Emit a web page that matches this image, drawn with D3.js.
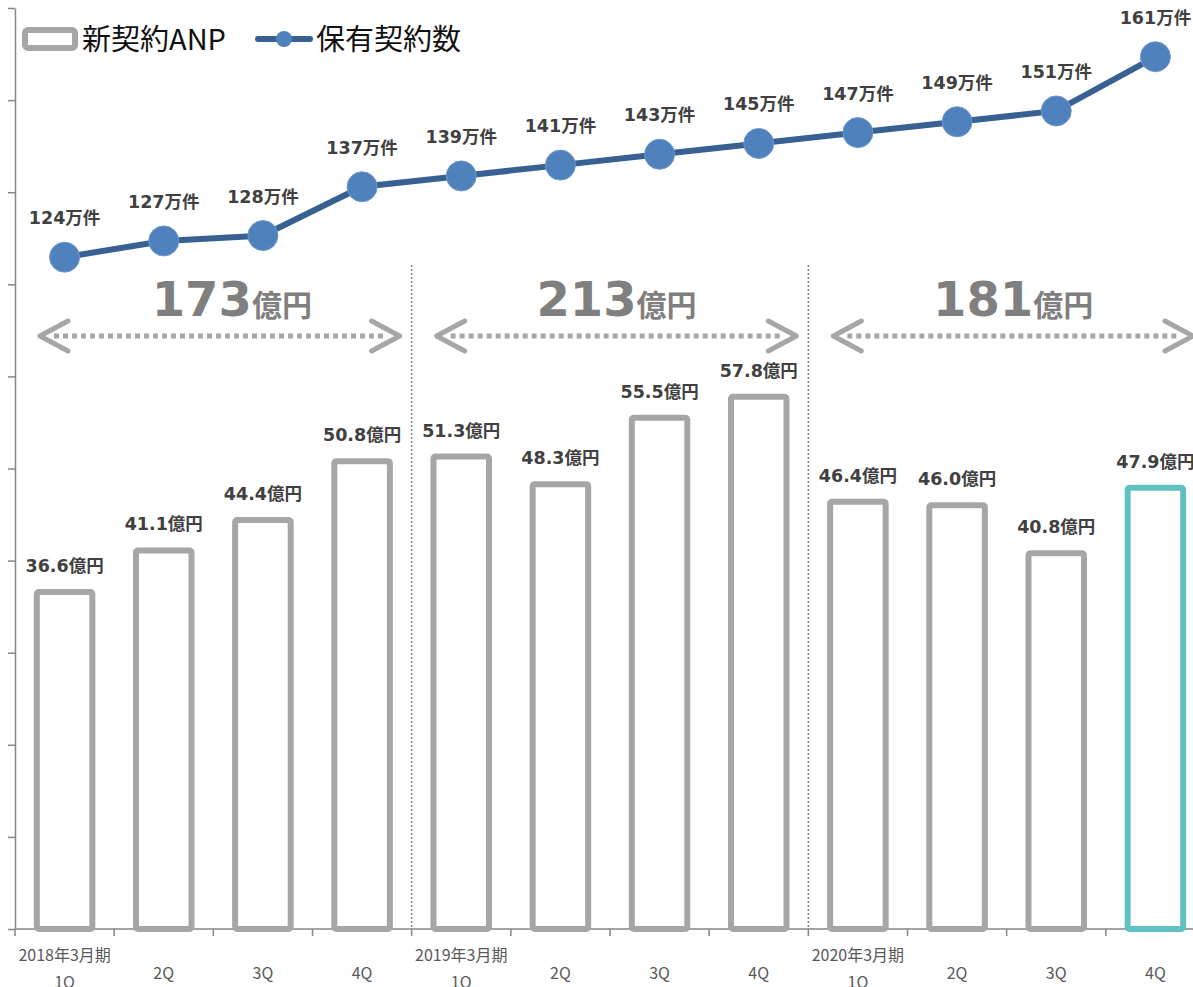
<!DOCTYPE html>
<html>
<head>
<meta charset="utf-8">
<script src="https://cdn.jsdelivr.net/npm/d3@7"></script>
<style>
  html, body { margin: 0; padding: 0; background: #fff; overflow: hidden; }
  svg { display: block; }
</style>
</head>
<body>
<svg id="chart"></svg>
<script>
// data
const periods = ['2018年3月期', '2019年3月期', '2020年3月期'];
const quarters = ['1Q', '2Q', '3Q', '4Q'];
const periodTotals = [173, 213, 181];
const anp = [36.6, 41.1, 44.4, 50.8, 51.3, 48.3, 55.5, 57.8, 46.4, 46.0, 40.8, 47.9];
const policies = [124, 127, 128, 137, 139, 141, 143, 145, 147, 149, 151, 161];

const width = 1193;
const height = 987;
const plotLeft = 15;
const plotRight = 1205; // plot runs a bit past the window, like the slide
const plotTop = 8;
const plotBottom = 929;

const barGray = '#a6a6a6';
const barTeal = '#5fc1c1';
const lineBlue = '#386093';
const dotBlue = '#4f81bd';
const labelFont = '"DejaVu Sans", "Noto Sans CJK JP", sans-serif';
const cjkFont = '"Noto Sans CJK JP", sans-serif';

// one key per quarter
const keys = [];
periods.forEach((p, pi) => quarters.forEach((q, qi) => keys.push(pi * 4 + qi)));

const svg = d3.select('#chart')
  .attr('width', width)
  .attr('height', height);

const x = d3.scaleBand().domain(keys).range([plotLeft, plotRight]).padding(0);
const yBar = d3.scaleLinear().domain([0, 100]).range([plotBottom, plotTop]);
const yLine = d3.scaleLinear().domain([0, 170]).range([plotBottom, plotTop]);
const cx = (i) => x(i) + x.bandwidth() / 2;

// left axis (no labels, just ticks)
const yAxis = svg.append('g')
  .attr('transform', `translate(${plotLeft},0)`)
  .call(d3.axisLeft(yBar).tickValues(d3.range(0, 101, 10)).tickSize(7).tickSizeOuter(0).tickFormat(''));
yAxis.select('.domain').attr('stroke', '#868686').attr('stroke-width', 1.5);
yAxis.selectAll('line').attr('stroke', '#868686').attr('stroke-width', 1.5);

// bottom axis line + ticks at band edges
const xg = svg.append('g');
xg.append('line')
  .attr('x1', plotLeft).attr('x2', plotRight)
  .attr('y1', plotBottom).attr('y2', plotBottom)
  .attr('stroke', '#868686').attr('stroke-width', 1.5);
xg.selectAll('.xtick')
  .data(keys.concat([keys.length]))
  .enter().append('line')
  .attr('x1', (d) => plotLeft + d * x.bandwidth())
  .attr('x2', (d) => plotLeft + d * x.bandwidth())
  .attr('y1', plotBottom).attr('y2', plotBottom + 7)
  .attr('stroke', '#868686').attr('stroke-width', 1.5);

// dotted separators between fiscal years
svg.selectAll('.sep')
  .data(periods.slice(1))
  .enter().append('line')
  .attr('x1', (d, i) => x((i + 1) * 4))
  .attr('x2', (d, i) => x((i + 1) * 4))
  .attr('y1', 265).attr('y2', plotBottom)
  .attr('stroke', '#7f7f7f')
  .attr('stroke-width', 1.5)
  .attr('stroke-dasharray', '2,2');

// x labels
const xl = svg.append('g')
  .attr('font-family', cjkFont)
  .attr('font-size', 16)
  .attr('fill', '#595959')
  .attr('text-anchor', 'middle');
keys.forEach((k) => {
  const qi = k % 4;
  if (qi === 0) {
    xl.append('text').attr('x', cx(k)).attr('y', 961).text(periods[k / 4]);
    xl.append('text').attr('x', cx(k)).attr('y', 988).text(quarters[qi]);
  } else {
    xl.append('text').attr('x', cx(k)).attr('y', 979).text(quarters[qi]);
  }
});

// bars (outlined)
const barW = x.bandwidth() * 0.56;
svg.selectAll('.bar')
  .data(anp)
  .enter().append('rect')
  .attr('x', (d, i) => cx(i) - barW / 2)
  .attr('y', (d) => yBar(d))
  .attr('width', barW)
  .attr('height', (d) => yBar(0) - yBar(d))
  .attr('rx', 2)
  .attr('fill', '#fff')
  .attr('stroke', (d, i) => (i === anp.length - 1 ? barTeal : barGray))
  .attr('stroke-width', 6);

svg.selectAll('.barlabel')
  .data(anp)
  .enter().append('text')
  .attr('x', (d, i) => cx(i))
  .attr('y', (d) => yBar(d) - 20)
  .attr('text-anchor', 'middle')
  .attr('font-family', labelFont)
  .attr('font-weight', 'bold')
  .attr('font-size', 17.5)
  .attr('fill', '#404040')
  .text((d) => `${d.toFixed(1)}億円`);

// fiscal-year totals with dotted double arrows
const arrowY = 336;
periodTotals.forEach((t, pi) => {
  const x0 = x(pi * 4) + 25;
  const x1 = x(pi * 4) + x.bandwidth() * 4 - 12;
  const g = svg.append('g')
    .attr('stroke', barGray)
    .attr('fill', 'none')
    .attr('stroke-width', 5)
    .attr('stroke-linecap', 'round');
  g.append('line')
    .attr('x1', x0 + 14).attr('x2', x1 - 14)
    .attr('y1', arrowY).attr('y2', arrowY)
    .attr('stroke-linecap', 'butt')
    .attr('stroke-dasharray', '5,4');
  g.append('path')
    .attr('d', `M${x0 + 28},${arrowY - 15}L${x0},${arrowY}L${x0 + 28},${arrowY + 15}`)
    .attr('stroke-linejoin', 'round');
  g.append('path')
    .attr('d', `M${x1 - 28},${arrowY - 15}L${x1},${arrowY}L${x1 - 28},${arrowY + 15}`)
    .attr('stroke-linejoin', 'round');

  const txt = svg.append('text')
    .attr('x', (x0 + x1) / 2 + (pi === 0 ? 12 : 0))
    .attr('y', 316)
    .attr('text-anchor', 'middle')
    .attr('fill', '#7f7f7f')
    .attr('font-weight', 'bold');
  txt.append('tspan')
    .attr('font-family', labelFont)
    .attr('font-size', 48)
    .text(t);
  txt.append('tspan')
    .attr('font-family', cjkFont)
    .attr('font-size', 30)
    .text('億円');
});

// policies in force line
const line = d3.line()
  .x((d, i) => cx(i))
  .y((d) => yLine(d));

svg.append('path')
  .datum(policies)
  .attr('d', line)
  .attr('fill', 'none')
  .attr('stroke', lineBlue)
  .attr('stroke-width', 6);

svg.selectAll('.dot')
  .data(policies)
  .enter().append('circle')
  .attr('cx', (d, i) => cx(i))
  .attr('cy', (d) => yLine(d))
  .attr('r', 15)
  .attr('fill', dotBlue)
  .attr('stroke', '#6f97cc')
  .attr('stroke-width', 1);

svg.selectAll('.dotlabel')
  .data(policies)
  .enter().append('text')
  .attr('x', (d, i) => cx(i))
  .attr('y', (d) => yLine(d) - 33)
  .attr('text-anchor', 'middle')
  .attr('font-family', labelFont)
  .attr('font-weight', 'bold')
  .attr('font-size', 17.5)
  .attr('fill', '#404040')
  .text((d) => `${d}万件`);

// legend
const lg = svg.append('g');
lg.append('rect')
  .attr('x', 25).attr('y', 30)
  .attr('width', 50).attr('height', 18)
  .attr('rx', 3)
  .attr('fill', '#fff')
  .attr('stroke', barGray)
  .attr('stroke-width', 6);
lg.append('text')
  .attr('x', 82).attr('y', 50)
  .attr('font-family', cjkFont)
  .attr('font-size', 29)
  .attr('fill', '#111')
  .text('新契約ANP');
lg.append('line')
  .attr('x1', 258).attr('x2', 310)
  .attr('y1', 39).attr('y2', 39)
  .attr('stroke', lineBlue)
  .attr('stroke-width', 6)
  .attr('stroke-linecap', 'round');
lg.append('circle')
  .attr('cx', 284).attr('cy', 39).attr('r', 8)
  .attr('fill', dotBlue);
lg.append('text')
  .attr('x', 316).attr('y', 50)
  .attr('font-family', cjkFont)
  .attr('font-size', 29)
  .attr('fill', '#111')
  .text('保有契約数');
</script>
</body>
</html>
